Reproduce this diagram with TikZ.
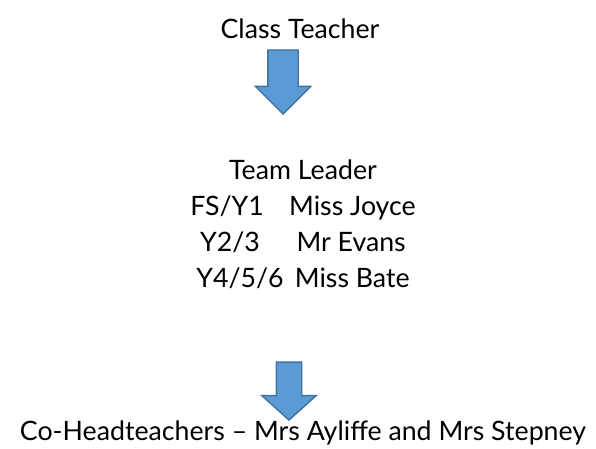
\documentclass[tikz,border=0pt]{standalone}
\usepackage{fontspec}
\setmainfont{Lato}
\usetikzlibrary{shapes.arrows}
\definecolor{arrowfill}{HTML}{5B9BD5}
\definecolor{arrowline}{HTML}{41719C}
\begin{document}
\begin{tikzpicture}[x=0.025cm, y=-0.025cm,
  title node/.style={anchor=base, inner sep=0pt, font=\fontsize{19}{25.4}\selectfont},
  down arrow/.style={single arrow, shape border rotate=270, anchor=tip, fill=arrowfill, draw=arrowline, line width=1pt}]
\useasboundingbox (0,0) rectangle (596,448);
\node [title node](teacher) at (300,38) {Class Teacher};
\node [title node, align=center](leader) at (303,287) {Team Leader\\
  FS/Y1\hspace{18pt}Miss Joyce\\
  Y2/3\hspace{26pt}Mr Evans\\
  Y4/5/6\hspace{8pt}Miss Bate};
\node [title node](heads) at (303,440) {Co-Headteachers -- Mrs Ayliffe and Mrs Stepney};
\node [down arrow, minimum height=1.6cm, inner sep=0.3625cm, single arrow head extend=0.3125cm](arrowA) at (283,115) {};
\node [down arrow, minimum height=1.45cm, inner sep=0.3cm, single arrow head extend=0.3625cm, single arrow tip angle=96](arrowB) at (289,421) {};
\end{tikzpicture}
\end{document}
